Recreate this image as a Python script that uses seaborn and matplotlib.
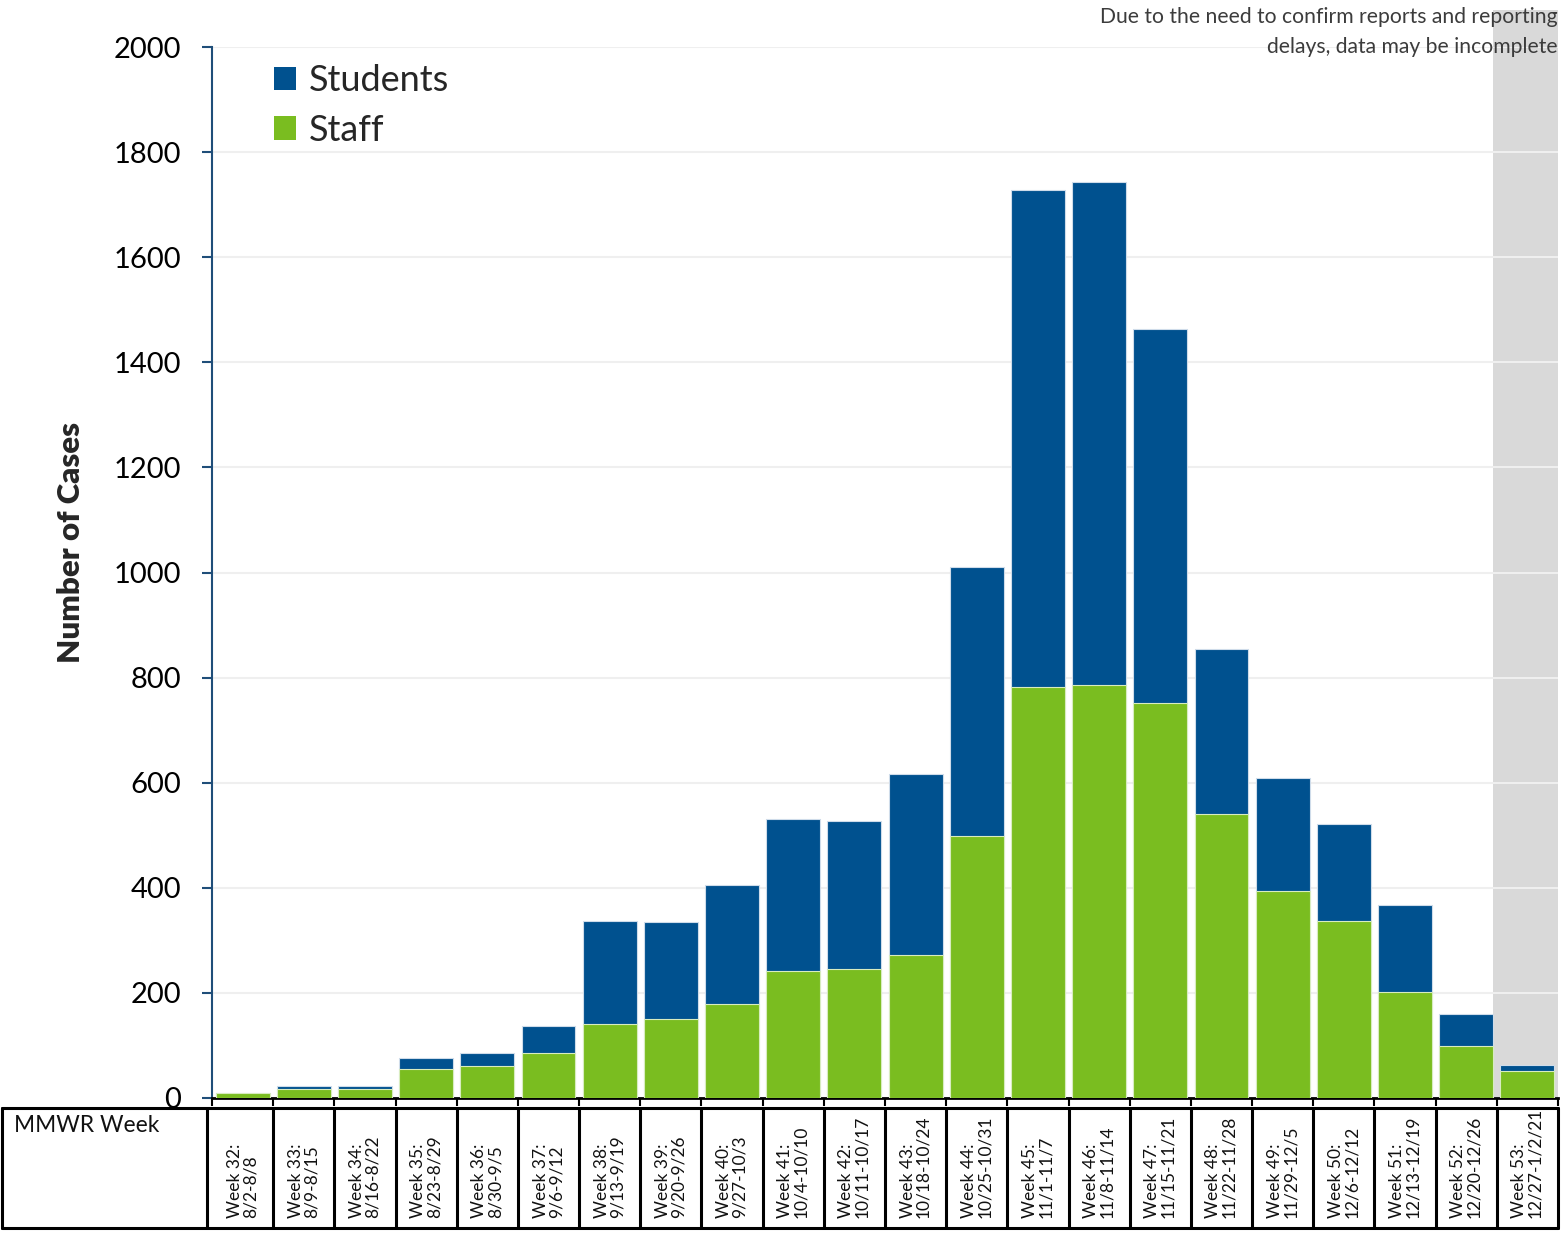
import numpy as np
import pandas as pd
import matplotlib
matplotlib.use("Agg")
import matplotlib.pyplot as plt
import matplotlib.transforms as mtransforms
from matplotlib.patches import Rectangle, Patch
from matplotlib.lines import Line2D
import seaborn as sns

# ---------------- data ----------------
weeks = ["Week 32:", "Week 33:", "Week 34:", "Week 35:", "Week 36:", "Week 37:",
         "Week 38:", "Week 39:", "Week 40:", "Week 41:", "Week 42:", "Week 43:",
         "Week 44:", "Week 45:", "Week 46:", "Week 47:", "Week 48:", "Week 49:",
         "Week 50:", "Week 51:", "Week 52:", "Week 53:"]
date_ranges = ["8/2-8/8", "8/9-8/15", "8/16-8/22", "8/23-8/29", "8/30-9/5", "9/6-9/12",
               "9/13-9/19", "9/20-9/26", "9/27-10/3", "10/4-10/10", "10/11-10/17",
               "10/18-10/24", "10/25-10/31", "11/1-11/7", "11/8-11/14", "11/15-11/21",
               "11/22-11/28", "11/29-12/5", "12/6-12/12", "12/13-12/19", "12/20-12/26",
               "12/27-1/2/21"]
staff = [9, 18, 18, 55, 61, 86, 141, 150, 179, 242, 245, 272,
         499, 783, 786, 751, 540, 393, 337, 202, 99, 51]
students = [1, 5, 4, 21, 25, 51, 196, 184, 226, 289, 283, 344,
            511, 944, 958, 713, 314, 216, 184, 165, 61, 12]
y_ticks = [0, 200, 400, 600, 800, 1000, 1200, 1400, 1600, 1800, 2000]
note_text = "Due to the need to confirm reports and reporting\ndelays, data may be incomplete"

BLUE = "#00518F"
GREEN = "#7ABD20"

sns.set_theme(style="white")
plt.rcParams["font.family"] = ["Lato", "DejaVu Sans"]

labels = [f"{w}\n{d}" for w, d in zip(weeks, date_ranges)]
df = pd.DataFrame({"label": labels,
                   "Staff": staff,
                   "Students": students})
df["Total"] = df["Staff"] + df["Students"]

W, H = 1563, 1233
fig = plt.figure(figsize=(W / 100, H / 100), dpi=100)
ax = fig.add_axes([212 / W, 1 - 1098 / H, (1558 - 212) / W, (1098 - 47) / H])

sns.barplot(data=df, x="label", y="Total", color=BLUE, width=0.88, ax=ax,
            edgecolor="#cfdcea", linewidth=0.8, saturation=1, zorder=2)
sns.barplot(data=df, x="label", y="Staff", color=GREEN, width=0.88, ax=ax,
            edgecolor="#d8ecc0", linewidth=0.8, saturation=1, zorder=3)

n = len(labels)
ax.set_xlim(-0.5, n - 0.5)
ax.set_ylim(0, 2000)
ax.set_yticks(y_ticks)
ax.set_yticklabels([str(v) for v in y_ticks], fontsize=21)
ax.yaxis.grid(True, color="#efefef", linewidth=1.5)
ax.xaxis.grid(False)
ax.set_axisbelow(True)

# grey "incomplete" band
trans = mtransforms.blended_transform_factory(ax.transData, ax.transAxes)
ax.add_patch(Rectangle((n - 2 + 0.44, 0), 1.06, (1098 - 10) / 1051, transform=trans,
                       facecolor="#d9d9d9", edgecolor="none", zorder=0.1, clip_on=False))

# spines / ticks
for s in ["top", "right"]:
    ax.spines[s].set_visible(False)
ax.spines["left"].set_color("#1f4e79")
ax.spines["left"].set_linewidth(1.5)
ax.spines["bottom"].set_color("black")
ax.spines["bottom"].set_linewidth(2)
ax.tick_params(axis="y", direction="out", length=7, width=1.5, color="#1f4e79",
               left=True, pad=15, labelcolor="black")
ax.set_xticks(np.arange(-0.5, n, 1.0))
ax.set_xticklabels([])
ax.tick_params(axis="x", direction="out", length=6, width=1.5, color="black", bottom=True)
ax.set_xlabel("")
ax.set_ylabel("Number of Cases", fontsize=22.5, fontweight="heavy")
ax.yaxis.set_label_coords(-0.094, 0.529)

# legend
handles = [Patch(facecolor=BLUE, edgecolor="none", label="Students"),
           Patch(facecolor=GREEN, edgecolor="none", label="Staff")]
ax.legend(handles=handles, loc="upper left", bbox_to_anchor=(0.03, 1.004),
          frameon=False, fontsize=26, handlelength=0.62, handleheight=0.62,
          handletextpad=0.35, labelspacing=0.45, borderaxespad=0.2)

# note
fig.text(1558 / W, 1 - 7 / H, note_text, ha="right", va="top", fontsize=15.2,
         color="#3c3c3c", linespacing=1.65, fontweight="normal")

# ---------------- table below ----------------
tb = mtransforms.blended_transform_factory(ax.transData, fig.transFigure)
y_top = 1 - 1108 / H
y_bot = 1 - 1228 / H
x_left_fig = 2 / W
lw = 2.2
fig.add_artist(Line2D([x_left_fig, 1558 / W], [y_top, y_top], transform=fig.transFigure,
                      color="black", lw=lw))
fig.add_artist(Line2D([x_left_fig, 1558 / W], [y_bot, y_bot], transform=fig.transFigure,
                      color="black", lw=lw))
fig.add_artist(Line2D([x_left_fig, x_left_fig], [y_bot, y_top], transform=fig.transFigure,
                      color="black", lw=lw))
for k in range(n + 1):
    xb = k - 0.5
    if k == 0:
        xb = -0.58
    fig.add_artist(Line2D([xb, xb], [y_bot, y_top], transform=tb, color="black", lw=lw))
fig.text(14 / W, 1 - 1115 / H, "MMWR Week", ha="left", va="top", fontsize=16.4, color="#111111")
for i, lab in enumerate(labels):
    fig.text(i, 1 - 1218 / H, lab, transform=tb, rotation=90, ha="center", va="bottom",
             multialignment="left", fontsize=12.5, linespacing=1.0, color="#111111")

fig.savefig("out.png", dpi=100)
